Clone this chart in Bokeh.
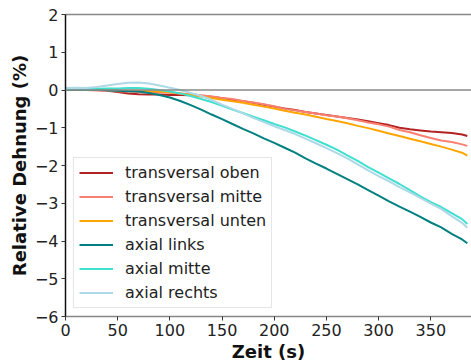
from bokeh.plotting import figure
from bokeh.models import Span, Legend, LegendItem, FixedTicker, LinearAxis, Range1d
from bokeh.embed import file_html
from bokeh.resources import INLINE

# ---- data ----
zeit = [0, 10, 20, 30, 40, 50, 60, 70, 80, 90, 100, 110, 120, 130, 140, 150, 160, 170, 180, 190,
        200, 210, 220, 230, 240, 250, 260, 270, 280, 290, 300, 310, 320, 330, 340, 350, 360, 370, 380, 385]

transversal_oben = [0.0, 0.0, 0.01, 0.0, -0.02, -0.05, -0.09, -0.11, -0.12, -0.12, -0.13, -0.13, -0.14, -0.16,
                    -0.18, -0.22, -0.26, -0.30, -0.34, -0.39, -0.44, -0.49, -0.53, -0.58, -0.62, -0.66, -0.70,
                    -0.74, -0.78, -0.83, -0.88, -0.93, -1.00, -1.04, -1.07, -1.10, -1.12, -1.14, -1.18, -1.22]
transversal_mitte = [0.0, 0.01, 0.0, -0.01, -0.02, -0.03, -0.04, -0.05, -0.05, -0.06, -0.07, -0.09, -0.11, -0.14,
                     -0.17, -0.21, -0.24, -0.29, -0.33, -0.38, -0.43, -0.50, -0.54, -0.58, -0.62, -0.67, -0.70,
                     -0.75, -0.80, -0.86, -0.91, -0.97, -1.06, -1.12, -1.20, -1.27, -1.34, -1.38, -1.44, -1.48]
transversal_unten = [0.0, 0.0, 0.01, 0.0, 0.0, -0.01, -0.02, -0.02, -0.03, -0.04, -0.06, -0.09, -0.13, -0.17,
                     -0.21, -0.26, -0.30, -0.34, -0.39, -0.44, -0.49, -0.55, -0.60, -0.65, -0.71, -0.77, -0.82,
                     -0.88, -0.95, -1.01, -1.08, -1.15, -1.22, -1.29, -1.36, -1.43, -1.50, -1.58, -1.66, -1.74]
axial_links = [0.0, 0.01, 0.0, 0.01, -0.01, -0.02, -0.03, -0.04, -0.08, -0.13, -0.20, -0.29, -0.40, -0.52,
               -0.65, -0.77, -0.90, -1.03, -1.15, -1.28, -1.40, -1.53, -1.66, -1.81, -1.95, -2.08, -2.22,
               -2.36, -2.50, -2.65, -2.80, -2.95, -3.09, -3.22, -3.36, -3.51, -3.64, -3.81, -3.96, -4.06]
axial_mitte = [0.02, 0.03, 0.02, 0.03, 0.04, 0.04, 0.05, 0.05, 0.03, 0.0, -0.04, -0.09, -0.16, -0.24,
               -0.32, -0.42, -0.52, -0.61, -0.71, -0.80, -0.90, -0.99, -1.10, -1.21, -1.33, -1.45, -1.58,
               -1.73, -1.88, -2.04, -2.19, -2.34, -2.49, -2.65, -2.82, -2.97, -3.10, -3.26, -3.42, -3.55]
axial_rechts = [0.05, 0.06, 0.05, 0.08, 0.12, 0.16, 0.19, 0.20, 0.17, 0.12, 0.06, 0.0, -0.08, -0.16,
                -0.26, -0.39, -0.50, -0.62, -0.74, -0.85, -0.96, -1.06, -1.17, -1.29, -1.41, -1.54, -1.67,
                -1.81, -1.97, -2.13, -2.28, -2.42, -2.57, -2.71, -2.86, -3.01, -3.15, -3.34, -3.52, -3.65]

series_names = ["transversal oben", "transversal mitte", "transversal unten",
                "axial links", "axial mitte", "axial rechts"]
series_values = [transversal_oben, transversal_mitte, transversal_unten,
                 axial_links, axial_mitte, axial_rechts]
series_colors = ["#b22222", "#fa8072", "#ffa500", "#008080", "#40e0d0", "#add8e6"]

x_ticks = [0, 50, 100, 150, 200, 250, 300, 350]
y_ticks = [-6, -5, -4, -3, -2, -1, 0, 1, 2]
x_limits = (0, 389)
y_limits = (-6, 2)

FONT = "DejaVu Sans"

p = figure(width=471, height=364, output_backend="svg", toolbar_location=None,
           x_range=Range1d(*x_limits), y_range=Range1d(*y_limits),
           min_border_left=65, min_border_right=0, min_border_top=14, min_border_bottom=48)
p.background_fill_color = "white"
p.border_fill_color = "white"
p.outline_line_color = None
p.grid.visible = False

# axes
p.xaxis.ticker = FixedTicker(ticks=x_ticks)
p.yaxis.ticker = FixedTicker(ticks=y_ticks)
p.yaxis.major_label_overrides = {t: (str(t).replace("-", "\u2212")) for t in y_ticks}
for ax in (p.xaxis[0], p.yaxis[0]):
    ax.major_label_text_font = FONT
    ax.major_label_text_font_size = "16px"
    ax.major_label_text_color = "#222222"
    ax.axis_label_text_font = FONT
    ax.axis_label_text_font_style = "bold"
    ax.axis_label_text_font_size = "18px"
    ax.axis_label_text_color = "#111111"
    ax.minor_tick_line_color = None
    ax.major_tick_in = 0
    ax.major_tick_out = 4
    ax.major_tick_line_color = "#333333"
    ax.major_label_standoff = 3
    ax.axis_label_standoff = 2
p.xaxis.axis_label = "Zeit (s)"
p.yaxis.axis_label = "Relative Dehnung (%)"
p.yaxis.axis_line_color = "#111111"
p.xaxis.axis_line_color = "#888888"
p.yaxis.axis_line_width = 1.5
p.xaxis.axis_line_width = 1.5

top_axis = LinearAxis(ticker=FixedTicker(ticks=[]), major_tick_out=0, major_tick_in=0,
                      minor_tick_out=0, minor_tick_in=0, major_label_text_font_size="0px",
                      major_label_standoff=0, axis_line_color="#888888", axis_line_width=1.5)
p.add_layout(top_axis, "above")

zero = Span(location=0, dimension="width", line_color="#888888", line_width=1.5)
p.add_layout(zero)

items = []
for name, vals, col in zip(series_names, series_values, series_colors):
    r = p.line(zeit, vals, line_color=col, line_width=2)
    items.append(LegendItem(label=name, renderers=[r]))

legend = Legend(items=items, location="bottom_left", margin=8, padding=5,
                spacing=5, glyph_width=34, glyph_height=19, label_height=19,
                label_standoff=12, label_text_font=FONT, label_text_font_size="16px",
                label_text_color="#222222", border_line_color="#cccccc",
                border_line_width=1, background_fill_alpha=0.8)
p.add_layout(legend)

open("out.html", "w").write(file_html(p, INLINE))
